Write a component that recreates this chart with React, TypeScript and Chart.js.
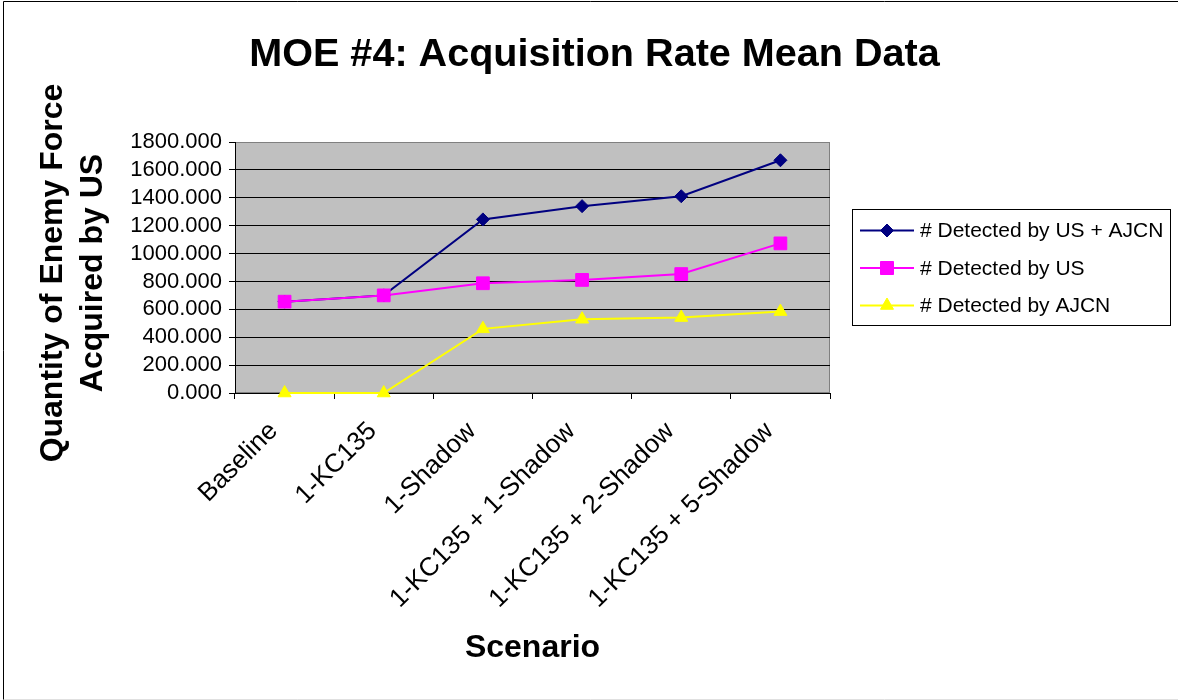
import { useEffect, useRef } from 'react';
import { Chart, registerables } from 'chart.js';

Chart.register(...registerables);

const FONT = '"Liberation Sans", Arial, Helvetica, sans-serif';

const chartTitle = 'MOE #4: Acquisition Rate Mean Data';
const xAxisTitle = 'Scenario';
const yAxisTitle = ['Quantity of Enemy Force', 'Acquired by US'];

const categories = [
  'Baseline',
  '1-KC135',
  '1-Shadow',
  '1-KC135 + 1-Shadow',
  '1-KC135 + 2-Shadow',
  '1-KC135 + 5-Shadow',
];

const seriesLabels = ['# Detected by US + AJCN', '# Detected by US', '# Detected by AJCN'];
const detectedUsAjcn = [655, 700, 1245, 1340, 1411, 1669];
const detectedUs = [655, 700, 787, 811, 853, 1073];
const detectedAjcn = [0, 0, 460, 529, 541, 584];

const yMin = 0;
const yMax = 1800;
const yStep = 200;

function drawMarker(ctx: CanvasRenderingContext2D, style: string, x: number, y: number, color: string) {
  ctx.fillStyle = color;
  ctx.strokeStyle = color;
  ctx.lineWidth = 1;
  ctx.beginPath();
  if (style === 'rectRot') {
    const r = 6.5;
    ctx.moveTo(x - r, y);
    ctx.lineTo(x, y - r);
    ctx.lineTo(x + r, y);
    ctx.lineTo(x, y + r);
  } else if (style === 'rect') {
    const h = 6.5;
    ctx.rect(x - h, y - h, 2 * h, 2 * h);
  } else {
    const r = 7.5;
    ctx.moveTo(x, y - r);
    ctx.lineTo(x + r * Math.sin((2 * Math.PI) / 3), y - r * Math.cos((2 * Math.PI) / 3));
    ctx.lineTo(x + r * Math.sin((4 * Math.PI) / 3), y - r * Math.cos((4 * Math.PI) / 3));
  }
  ctx.closePath();
  ctx.fill();
  ctx.stroke();
}

const decorPlugin = {
  id: 'decor',
  beforeDraw(chart: any) {
    const { ctx, chartArea: a } = chart;
    ctx.save();
    ctx.fillStyle = '#ffffff';
    ctx.fillRect(0, 0, chart.width, chart.height);
    ctx.fillStyle = '#C0C0C0';
    ctx.fillRect(a.left, a.top, a.right - a.left, a.bottom - a.top);
    ctx.strokeStyle = '#808080';
    ctx.lineWidth = 1;
    ctx.strokeRect(a.left + 0.5, a.top + 0.5, a.right - a.left - 1, a.bottom - a.top - 1);
    ctx.restore();
  },
  afterDraw(chart: any) {
    const { ctx } = chart;
    ctx.save();
    // chart title
    ctx.fillStyle = '#000';
    ctx.font = `bold 39.6px ${FONT}`;
    ctx.textAlign = 'center';
    ctx.textBaseline = 'alphabetic';
    ctx.fillText(chartTitle, 594.5, 66);

    // y axis title (two rotated lines)
    ctx.save();
    ctx.translate(0, 273);
    ctx.rotate(-Math.PI / 2);
    ctx.font = `bold 32px ${FONT}`;
    ctx.textAlign = 'center';
    ctx.textBaseline = 'middle';
    ctx.fillText(yAxisTitle[0], 0, 53.5);
    ctx.fillText(yAxisTitle[1], 0, 93);
    ctx.restore();

    // legend
    const lx = 852.5;
    const ly = 209.5;
    const lw = 318;
    const lh = 116;
    ctx.fillStyle = '#ffffff';
    ctx.fillRect(lx, ly, lw, lh);
    ctx.strokeStyle = '#000';
    ctx.lineWidth = 1;
    ctx.strokeRect(lx, ly, lw, lh);
    const rowYs = [230.5, 268, 305.5];
    chart.data.datasets.forEach((ds: any, i: number) => {
      const y = rowYs[i];
      ctx.strokeStyle = ds.borderColor;
      ctx.lineWidth = 2;
      ctx.beginPath();
      ctx.moveTo(860, y);
      ctx.lineTo(914, y);
      ctx.stroke();
      drawMarker(ctx, ds.pointStyle, 887, y, ds.borderColor);
      ctx.fillStyle = '#000';
      ctx.font = `21px ${FONT}`;
      ctx.textAlign = 'left';
      ctx.textBaseline = 'middle';
      ctx.fillText(ds.label, 920, y + 1);
    });

    // outer frame
    ctx.strokeStyle = '#000';
    ctx.lineWidth = 1;
    ctx.beginPath();
    ctx.moveTo(3.5, 700);
    ctx.lineTo(3.5, 1.5);
    ctx.lineTo(1178, 1.5);
    ctx.stroke();
    ctx.strokeStyle = '#e0e0e0';
    ctx.beginPath();
    ctx.moveTo(3.5, 699.5);
    ctx.lineTo(1178, 699.5);
    ctx.stroke();
    ctx.restore();
  },
};

export default function App() {
  const ref = useRef<HTMLCanvasElement | null>(null);

  useEffect(() => {
    if (!ref.current) return;
    const chart = new Chart(ref.current, {
      type: 'line',
      data: {
        labels: categories,
        datasets: [
          {
            label: seriesLabels[0],
            data: detectedUsAjcn,
            borderColor: '#000080',
            backgroundColor: '#000080',
            pointBackgroundColor: '#000080',
            pointBorderColor: '#000080',
            borderWidth: 2,
            pointStyle: 'rectRot',
            pointRadius: 6.5,
            pointBorderWidth: 1,
            tension: 0,
            clip: false,
            order: 3,
          },
          {
            label: seriesLabels[1],
            data: detectedUs,
            borderColor: '#FF00FF',
            backgroundColor: '#FF00FF',
            pointBackgroundColor: '#FF00FF',
            pointBorderColor: '#FF00FF',
            borderWidth: 2,
            pointStyle: 'rect',
            pointRadius: 9,
            pointBorderWidth: 1,
            tension: 0,
            clip: false,
            order: 2,
          },
          {
            label: seriesLabels[2],
            data: detectedAjcn,
            borderColor: '#FFFF00',
            backgroundColor: '#FFFF00',
            pointBackgroundColor: '#FFFF00',
            pointBorderColor: '#FFFF00',
            borderWidth: 2,
            pointStyle: 'triangle',
            pointRadius: 7.5,
            pointBorderWidth: 1,
            tension: 0,
            clip: false,
            order: 1,
          },
        ],
      },
      options: {
        animation: false,
        responsive: false,
        devicePixelRatio: 1,
        layout: { padding: { left: 10, top: 142, right: 348, bottom: 10 } },
        plugins: {
          legend: { display: false },
          title: { display: false },
          tooltip: { enabled: false },
        },
        scales: {
          x: {
            type: 'category',
            offset: true,
            grid: {
              offset: true,
              drawOnChartArea: false,
              drawTicks: true,
              tickLength: 6,
              color: '#000',
              lineWidth: 1,
            },
            border: { color: '#000', width: 1 },
            ticks: {
              maxRotation: 45,
              minRotation: 45,
              autoSkip: false,
              padding: 17,
              labelOffset: -11,
              color: '#000',
              font: { family: FONT, size: 26 },
            },
            title: {
              display: true,
              text: xAxisTitle,
              color: '#000',
              font: { family: FONT, size: 32, weight: 'bold', lineHeight: 1.25 },
              padding: { top: 0, bottom: 22 },
            },
            afterFit: (s: any) => {
              s.height = 297;
            },
          },
          y: {
            min: yMin,
            max: yMax,
            ticks: {
              stepSize: yStep,
              autoSkip: false,
              padding: 7,
              color: '#000',
              font: { family: FONT, size: 22 },
              callback: (v: any) => Number(v).toFixed(3),
            },
            grid: {
              color: (c: any) => (c.tick && c.tick.value === yMax ? '#808080' : '#000'),
              tickColor: '#000',
              tickLength: 6,
              lineWidth: 1,
            },
            border: { color: '#000', width: 1 },
            title: { display: false },
            afterFit: (s: any) => {
              s.width = 225;
            },
          },
        },
      },
      plugins: [decorPlugin],
    } as any);
    return () => chart.destroy();
  }, []);

  return (
    <div style={{ position: 'absolute', left: 0, top: 0, width: 1178, height: 700 }}>
      <canvas ref={ref} width={1178} height={700} />
    </div>
  );
}
